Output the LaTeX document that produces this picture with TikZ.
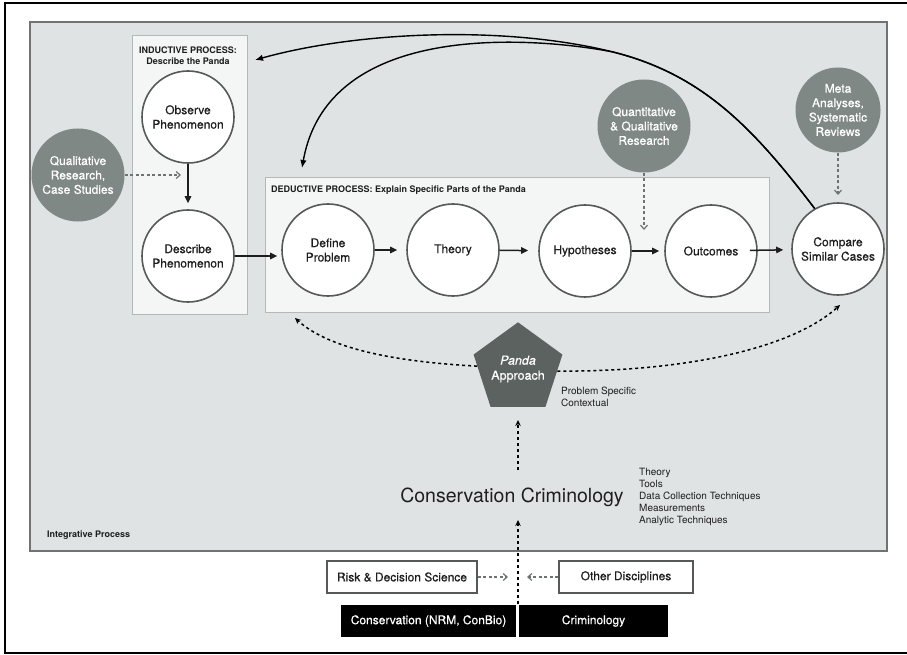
\documentclass[tikz,border=0pt]{standalone}
\usepackage{fontspec}
\setmainfont{TeX Gyre Heros}
\newfontfamily\medfont[FakeBold=0.45]{TeX Gyre Heros}
\usetikzlibrary{shapes.geometric,arrows.meta}
\definecolor{bgray}{HTML}{E0E3E3}
\definecolor{boxfill}{HTML}{F4F6F6}
\definecolor{boxline}{HTML}{B3B8B8}
\definecolor{regline}{HTML}{6F7473}
\definecolor{circline}{HTML}{555A59}
\definecolor{gcirc}{HTML}{808886}
\definecolor{pent}{HTML}{5C6260}
\definecolor{dgray}{HTML}{6E7372}
\definecolor{txt}{HTML}{1E1E1E}
\tikzset{
  stepcirc/.style={circle, draw=circline, line width=1.6pt, fill=white, minimum size=92pt, inner sep=0pt, align=center, text=txt, font=\medfont\fontsize{12}{14.4}\selectfont},
  graycirc/.style={circle, fill=gcirc, minimum size=#1, inner sep=0pt, align=center, text=white, font=\medfont\fontsize{12}{14.4}\selectfont},
  flowarrow/.style={line width=1.5pt, draw=txt, -{Triangle[length=7pt,width=6.5pt]}},
  curvearrow/.style={line width=1.4pt, draw=black, -{Latex[length=8pt,width=6.5pt]}},
  blackdash/.style={line width=1.5pt, draw=black, dash pattern=on 3pt off 3pt, -{Stealth[length=6pt,width=5.5pt]}},
  graydash/.style={line width=1.2pt, draw=dgray, dash pattern=on 3pt off 2.5pt, -{Straight Barb[length=4pt,width=7pt]}},
  discbox/.style={draw=circline, line width=1.6pt, fill=white, minimum height=32pt, inner sep=0pt, text=txt, font=\medfont\fontsize{12}{14}\selectfont},
  blackbox/.style={fill=black, minimum height=32pt, inner sep=0pt, text=white, font=\medfont\fontsize{12}{14}\selectfont},
  ttl/.style={font=\fontsize{9}{11.3}\selectfont\bfseries, text=txt, inner sep=0pt},
  small/.style={font=\fontsize{10}{12.3}\selectfont, text=txt, inner sep=0pt, align=left}
}
\begin{document}
\begin{tikzpicture}[x=1pt,y=-1pt]
\useasboundingbox (0,0) rectangle (907,655);
\fill[white] (0,0) rectangle (907,655);
% outer frame
\draw[line width=2pt] (5,3) rectangle (912,653);
% integrative region
\draw[fill=bgray, draw=regline, line width=1.3pt] (30,22) rectangle (887,551);
% inductive and deductive boxes
\draw[fill=boxfill, draw=boxline, line width=1pt] (132,36) rectangle (247,314);
\draw[fill=boxfill, draw=boxline, line width=1pt] (265,178) rectangle (769,312);

\node[ttl, align=center] (indt) at (188,55.5) {INDUCTIVE PROCESS:\\Describe the Panda};
\node[ttl, anchor=west] (dedt) at (271,190) {DEDUCTIVE PROCESS: Explain Specific Parts of the Panda};
\node[ttl, anchor=west] (integ) at (47,535) {Integrative Process};

% step circles
\node[stepcirc] (obs) at (188,117) {Observe\\Phenomenon};
\node[stepcirc] (desc) at (188,256) {Describe\\Phenomenon};
\node[stepcirc] (def) at (328,250) {Define\\Problem};
\node[stepcirc] (theo) at (453,250) {Theory};
\node[stepcirc] (hyp) at (585,251) {Hypotheses};
\node[stepcirc] (outc) at (711,251) {Outcomes};
\node[stepcirc] (comp) at (838,249) {Compare\\Similar Cases};

% gray circles
\node[graycirc=93pt] (qual) at (78,175) {Qualitative\\Research,\\Case Studies};
\node[graycirc=93pt] (quant) at (644,126) {Quantitative\\\&~Qualitative\\Research};
\node[graycirc=85pt] (meta) at (838,110) {Meta\\Analyses,\\Systematic\\Reviews};

% flow arrows
\draw[flowarrow, shorten >=6pt] (obs) -- (desc);
\draw[flowarrow, shorten >=4pt] (desc.east) -- (desc.east -| def.west);
\draw[flowarrow, shorten >=9pt] (def) -- (theo);
\draw[flowarrow, shorten >=10pt] (theo) -- (hyp);
\draw[flowarrow, shorten >=5pt] (hyp) -- (outc);
\draw[flowarrow, shorten <=-8pt, shorten >=8pt] (outc) -- (comp);

% gray dashed inputs
\coordinate (qualTip) at (181,175);
\coordinate (quantTip) at (644,230);
\coordinate (metaTip) at (838,195);
\draw[graydash] (qual.east) -- (qualTip);
\draw[graydash] (quant.south) -- (quantTip);
\draw[graydash] (meta.south) -- (metaTip);

% feedback curves
\coordinate (split) at (613,52);
\coordinate (indTip) at (255,60);
\coordinate (defTip) at (302,168);
\draw[curvearrow] (comp.120) .. controls (754,129) and (703,74.5) .. (split)
  .. controls (503,24.5) and (355,32) .. (indTip);
\draw[curvearrow] (comp.120) .. controls (754,129) and (703,74.5) .. (split)
  .. controls (563,42) and (330,10) .. (defTip);

% panda
\node[regular polygon, regular polygon sides=5, minimum size=92pt, fill=pent, inner sep=0pt, align=center, text=white, font=\medfont\fontsize{12.5}{15}\selectfont] (panda) at (518,369) {\itshape Panda\\Approach};
\node[small, anchor=west] (prob) at (561,397) {Problem Specific\\Contextual};

\coordinate (leftTip) at (295,318);
\coordinate (rightTip) at (840,305);
\draw[blackdash] (panda.176) .. controls (400,362) and (330,350) .. (leftTip);
\draw[blackdash] (panda.357) .. controls (680,372) and (790,350) .. (rightTip);

% conservation criminology
\node[font=\fontsize{19.5}{22}\selectfont, text=txt, inner sep=0pt] (cc) at (512,497) {Conservation Criminology};
\node[small, anchor=west, font=\fontsize{10}{11.9}\selectfont] (list) at (639,497) {Theory\\Tools\\Data Collection Techniques\\Measurements\\Analytic Techniques};

\coordinate (ccTop) at (518,470);
\coordinate (pandaTip) at (518,420);
\draw[blackdash] (ccTop) -- (pandaTip);

% disciplines
\node[discbox, minimum width=150pt] (risk) at (402,577) {Risk \& Decision Science};
\node[discbox, minimum width=134pt] (other) at (626,577) {Other Disciplines};
\coordinate (riskTip) at (508,577);
\coordinate (otherTip) at (527,577);
\draw[graydash] (risk.east) -- (riskTip);
\draw[graydash] (other.west) -- (otherTip);

\node[blackbox, minimum width=175pt] (cons) at (428.5,621) {Conservation (NRM, ConBio)};
\node[blackbox, minimum width=149pt] (crim) at (593.5,621) {Criminology};

\coordinate (baseStart) at (518,604);
\coordinate (ccTip) at (518,520);
\draw[blackdash] (baseStart) -- (ccTip);
\end{tikzpicture}
\end{document}
